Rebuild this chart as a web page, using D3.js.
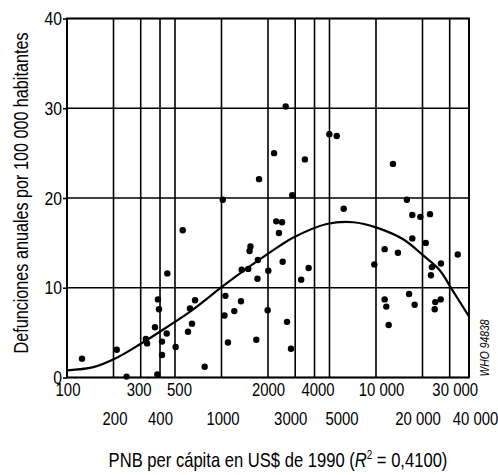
<!DOCTYPE html>
<html>
<head>
<meta charset="utf-8">
<script src="https://cdn.jsdelivr.net/npm/d3@7"></script>
<style>
  html, body { margin: 0; padding: 0; background: #fff; }
  svg { display: block; }
  text { font-family: "Liberation Sans", Arial, sans-serif; fill: #000; }
</style>
</head>
<body>
<svg id="chart" width="498" height="475"></svg>
<script>
// ---- data ----
const xTickValues = [100, 200, 300, 400, 500, 1000, 2000, 3000, 4000, 5000, 10000, 20000, 30000, 40000];
const xTickLabels = ["100", "200", "300", "400", "500", "1000", "2000", "3000", "4000", "5000", "10 000", "20 000", "30 000", "40 000"];
const yTickValues = [0, 10, 20, 30, 40];

const pointGNP = [125, 210, 243, 324, 330, 388, 394, 371, 412, 412, 384, 446, 442, 505, 561, 625, 674, 644, 607, 778,
  1019, 1060, 1045, 1101, 1210, 1337, 1352, 1490, 1540, 1520, 1720, 1710, 1680, 1750, 2190, 2010, 1990, 2260, 2466, 2355,
  2872, 2488, 3664, 3280, 2655, 2818, 6180, 2603, 3466, 4990, 5570, 12880, 15850, 17180, 19360, 22380, 17180, 20990,
  11380, 13870, 9760, 26340, 23010, 22690, 33840, 11380, 11660, 12080, 16370, 17800, 24190, 26220, 23990];
const pointDeaths = [2.1, 3.1, 0.1, 4.3, 3.8, 8.7, 7.6, 5.6, 4.0, 2.5, 0.35, 11.6, 4.9, 3.4, 16.4, 7.7, 8.6, 6.0, 5.1, 1.2,
  19.8, 9.1, 6.9, 3.9, 7.4, 8.5, 12.0, 12.1, 14.6, 14.1, 13.1, 11.0, 4.2, 22.1, 25.0, 11.9, 7.5, 17.4, 17.3, 16.1,
  20.3, 12.9, 12.2, 10.9, 6.2, 3.2, 18.8, 30.2, 24.3, 27.1, 26.9, 23.8, 19.8, 18.1, 17.9, 18.2, 15.5, 15.0,
  14.3, 13.9, 12.6, 12.7, 12.3, 11.4, 13.7, 8.7, 7.9, 5.85, 9.3, 8.1, 8.4, 8.7, 7.6];

const curveGNP = [100, 148, 210, 297, 442, 657, 1025, 1530, 2395, 2920, 4800, 7130, 10100, 15000, 20200, 26000, 30800, 40000];
const curveDeaths = [0.8, 1.15, 2.2, 3.7, 5.6, 7.6, 10.2, 12.4, 14.7, 15.6, 17.1, 17.3, 16.7, 15.4, 13.6, 11.9, 9.9, 6.8];

// ---- layout ----
const plotLeft = 67, plotRight = 469, plotTop = 18.5, plotBottom = 377.5;
const FONT = '"Liberation Sans", Arial, sans-serif';
const NARROW = 0.83; // horizontal squeeze to imitate a narrow face
// small horizontal nudges (px) of the x tick labels, as typeset in the original
const xLabelNudge = [0.5, 1, -2, 0, 4, 1, 0, -5, 3, 12, 5, -5, 5, 6];

// ---- chart ----
const svg = d3.select("#chart");
const x = d3.scaleLog().domain([100, 40000]).range([plotLeft, plotRight]);
const y = d3.scaleLinear().domain([0, 40]).range([plotBottom, plotTop]);

// vertical gridlines
svg.append("g")
  .selectAll("line")
  .data(xTickValues)
  .join("line")
  .attr("x1", d => x(d)).attr("x2", d => x(d))
  .attr("y1", plotTop).attr("y2", plotBottom)
  .attr("stroke", "#000").attr("stroke-width", 1.6);

// horizontal gridlines
svg.append("g")
  .selectAll("line")
  .data(yTickValues)
  .join("line")
  .attr("x1", plotLeft).attr("x2", plotRight)
  .attr("y1", d => y(d)).attr("y2", d => y(d))
  .attr("stroke", "#000").attr("stroke-width", 1.6);

// frame
svg.append("rect")
  .attr("x", plotLeft).attr("y", plotTop)
  .attr("width", plotRight - plotLeft).attr("height", plotBottom - plotTop)
  .attr("fill", "none").attr("stroke", "#000").attr("stroke-width", 1.8);

// y axis
const yAxis = svg.append("g")
  .attr("transform", `translate(${plotLeft},0)`)
  .call(d3.axisLeft(y).tickValues(yTickValues).tickSize(4).tickPadding(0).tickFormat(d3.format("d")));
yAxis.select(".domain").remove();
yAxis.selectAll(".tick line").attr("stroke", "#000").attr("stroke-width", 1.6);
yAxis.selectAll(".tick text")
  .attr("font-size", 19).attr("font-family", FONT).attr("fill", "#000")
  .attr("x", -5 / NARROW)
  .attr("transform", `scale(${NARROW},1)`);

// x axis (two staggered rows of labels)
const xAxis = svg.append("g")
  .attr("transform", `translate(0,${plotBottom})`)
  .call(d3.axisBottom(x).tickValues(xTickValues).tickSize(0)
    .tickFormat((d, i) => xTickLabels[i]));
xAxis.select(".domain").remove();
xAxis.selectAll(".tick text")
  .attr("font-size", 18)
  .attr("font-family", FONT)
  .attr("fill", "#000")
  .attr("dy", null)
  .attr("x", (d, i) => xLabelNudge[i] / NARROW)
  .attr("y", (d, i) => (i % 2 === 0 ? 19 : 48))
  .attr("transform", `scale(${NARROW},1)`);

// fitted curve
const line = d3.line()
  .x((d, i) => x(curveGNP[i]))
  .y((d, i) => y(curveDeaths[i]))
  .curve(d3.curveCatmullRom);
svg.append("path")
  .datum(curveGNP)
  .attr("d", line)
  .attr("fill", "none")
  .attr("stroke", "#000")
  .attr("stroke-width", 2.2);

// points
svg.append("g")
  .selectAll("circle")
  .data(pointGNP)
  .join("circle")
  .attr("cx", d => x(d))
  .attr("cy", (d, i) => y(pointDeaths[i]))
  .attr("r", 3.2)
  .attr("fill", "#000");

// y title
svg.append("text")
  .attr("transform", `translate(28,193) rotate(-90) scale(${NARROW},1)`)
  .attr("text-anchor", "middle")
  .attr("font-size", 19.5)
  .text("Defunciones anuales por 100 000 habitantes");

// x title
const xt = svg.append("text")
  .attr("transform", `translate(278,467) scale(${NARROW},1)`)
  .attr("text-anchor", "middle")
  .attr("font-size", 20);
xt.append("tspan").text("PNB per cápita en US$ de 1990 (");
xt.append("tspan").attr("font-style", "italic").text("R");
xt.append("tspan").attr("font-size", 12).attr("dy", -8).text("2");
xt.append("tspan").attr("dy", 8).text(" = 0,4100)");

// code
svg.append("text")
  .attr("transform", `translate(489,348) rotate(-90) scale(${NARROW},1)`)
  .attr("text-anchor", "middle")
  .attr("font-size", 12.5)
  .attr("font-style", "italic")
  .text("WHO 94838");
</script>
</body>
</html>
